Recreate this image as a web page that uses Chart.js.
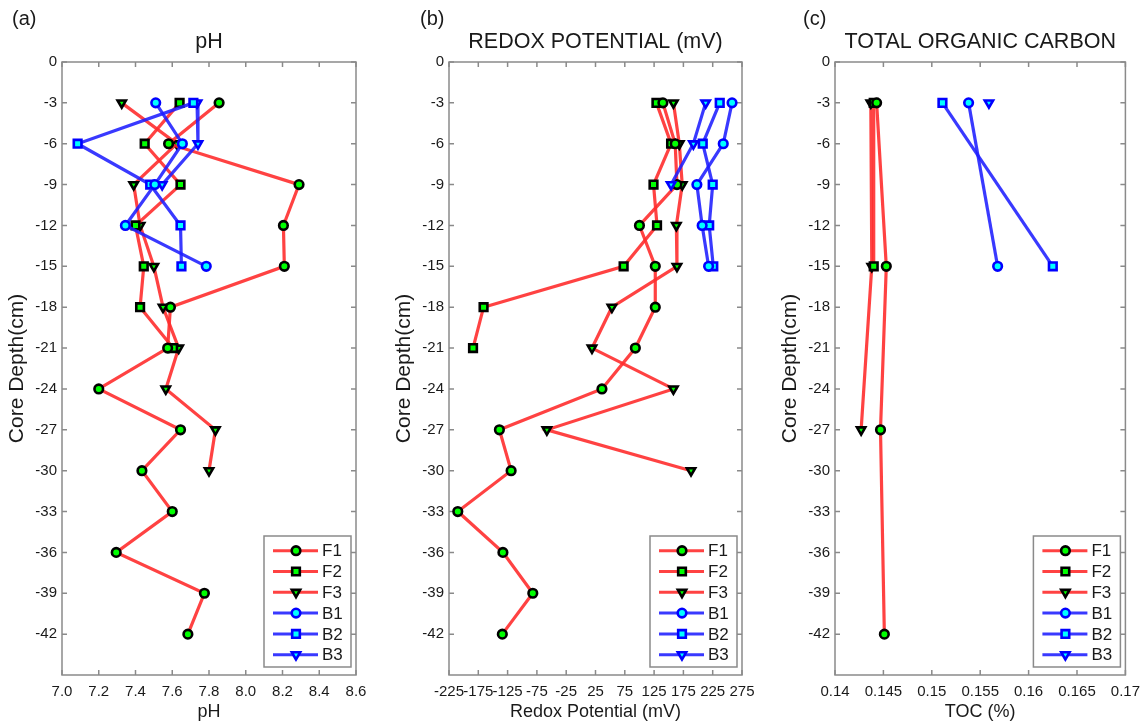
<!DOCTYPE html>
<html>
<head>
<meta charset="utf-8">
<title>Core depth profiles</title>
<script src="https://cdn.jsdelivr.net/npm/chart.js@4.4.1/dist/chart.umd.min.js"></script>
<style>
  body { margin: 0; background: #fff; }
  #page { position: relative; width: 1148px; height: 726px; overflow: hidden; background: #fff; }
  #page canvas { position: absolute; top: 0; }
</style>
</head>
<body>
<div id="page">
  <canvas id="chart-ph" width="387" height="726" style="left:0px"></canvas>
  <canvas id="chart-redox" width="386" height="726" style="left:387px"></canvas>
  <canvas id="chart-toc" width="375" height="726" style="left:773px"></canvas>
</div>
<script>
// axis ticks
const depthTicks = [0, -3, -6, -9, -12, -15, -18, -21, -24, -27, -30, -33, -36, -39, -42];
const phTicks = [7.0, 7.2, 7.4, 7.6, 7.8, 8.0, 8.2, 8.4, 8.6];
const redoxTicks = [-225, -175, -125, -75, -25, 25, 75, 125, 175, 225, 275];
const tocTicks = [0.14, 0.145, 0.15, 0.155, 0.16, 0.165, 0.17];

const seriesNames = ["F1", "F2", "F3", "B1", "B2", "B3"];

// sampling depths (cm) of each core
const depthF1 = [-3, -6, -9, -12, -15, -18, -21, -24, -27, -30, -33, -36, -39, -42];
const depthF2 = [-3, -6, -9, -12, -15, -18, -21];
const depthF3 = [-3, -6, -9, -12, -15, -18, -21, -24, -27, -30];
const depthB1 = [-3, -6, -9, -12, -15];
const depthB2 = [-3, -6, -9, -12, -15];
const depthB3 = [-3, -6, -9];

// TOC was only measured at a few depths
const tocDepthF1 = [-3, -15, -27, -42];
const tocDepthF2 = [-3, -15];
const tocDepthF3 = [-3, -15, -27];
const tocDepthB1 = [-3, -15];
const tocDepthB2 = [-3, -15];
const tocDepthB3 = [-3];

// pH
const phF1 = [7.855, 7.58, 8.29, 8.205, 8.21, 7.59, 7.575, 7.20, 7.645, 7.435, 7.60, 7.295, 7.775, 7.685];
const phF2 = [7.64, 7.45, 7.645, 7.40, 7.445, 7.425, 7.605];
const phF3 = [7.325, 7.625, 7.39, 7.425, 7.50, 7.55, 7.635, 7.565, 7.835, 7.80];
const phB1 = [7.51, 7.655, 7.505, 7.345, 7.785];
const phB2 = [7.715, 7.085, 7.48, 7.645, 7.65];
const phB3 = [7.735, 7.74, 7.545];

// redox potential (mV)
const redoxF1 = [140, 161, 164, 100, 127, 127, 93, 36, -139, -119, -210, -133, -82, -134];
const redoxF2 = [129, 154, 124, 130, 73, -166, -184];
const redoxF3 = [158, 168, 173, 163, 164, 53, 19, 158, -58, 188];
const redoxB1 = [258, 243, 198, 207, 218];
const redoxB2 = [237, 208, 225, 219, 226];
const redoxB3 = [213, 192, 154];

// total organic carbon (%)
const tocF1 = [0.1443, 0.1453, 0.1447, 0.1451];
const tocF2 = [0.1440, 0.1440];
const tocF3 = [0.1437, 0.1438, 0.1427];
const tocB1 = [0.1538, 0.1568];
const tocB2 = [0.1511, 0.1625];
const tocB3 = [0.1559];

const FONT = "'Liberation Sans', Arial, Helvetica, sans-serif";
const TEXT = "#1a1a1a";

const styles = {
  F1: { line: "rgba(255,45,45,0.9)", fill: "#00ff00", edge: "#000000", shape: "circle", rot: 0, r: 4.3 },
  F2: { line: "rgba(255,45,45,0.9)", fill: "#00ff00", edge: "#000000", shape: "rect", rot: 0, r: 5.4 },
  F3: { line: "rgba(255,45,45,0.9)", fill: "#00ff00", edge: "#000000", shape: "triangle", rot: 180, r: 4.8 },
  B1: { line: "rgba(30,30,255,0.88)", fill: "#00ffff", edge: "#0000ff", shape: "circle", rot: 0, r: 4.3 },
  B2: { line: "rgba(30,30,255,0.88)", fill: "#00ffff", edge: "#0000ff", shape: "rect", rot: 0, r: 5.4 },
  B3: { line: "rgba(30,30,255,0.88)", fill: "#00ffff", edge: "#0000ff", shape: "triangle", rot: 180, r: 4.8 }
};

function buildDatasets(values, depths) {
  return seriesNames.map((name, i) => {
    const s = styles[name];
    return {
      label: name,
      data: values[i].map((v, k) => ({ x: v, y: depths[i][k] })),
      borderColor: s.line,
      borderWidth: 3.2,
      tension: 0,
      fill: false,
      pointStyle: s.shape,
      pointRotation: s.rot,
      pointRadius: s.r,
      pointBorderWidth: 2.6,
      pointBackgroundColor: s.fill,
      pointBorderColor: s.edge,
      // blue cores sit on top of the red ones
      order: name[0] === "B" ? 0 : 1
    };
  });
}

// box around the plot with inward tick marks on all four sides
const framePlugin = {
  id: "frame",
  beforeDatasetsDraw(chart) {
    const { ctx, chartArea: a, scales } = chart;
    ctx.save();
    ctx.strokeStyle = "#8a8a8a";
    ctx.lineWidth = 1.5;
    ctx.strokeRect(a.left, a.top, a.right - a.left, a.bottom - a.top);
    ctx.beginPath();
    scales.x.ticks.forEach(t => {
      const px = scales.x.getPixelForValue(t.value);
      ctx.moveTo(px, a.bottom); ctx.lineTo(px, a.bottom - 5);
      ctx.moveTo(px, a.top); ctx.lineTo(px, a.top + 5);
    });
    scales.y.ticks.forEach(t => {
      const py = scales.y.getPixelForValue(t.value);
      ctx.moveTo(a.left, py); ctx.lineTo(a.left + 5, py);
      ctx.moveTo(a.right, py); ctx.lineTo(a.right - 5, py);
    });
    ctx.stroke();
    ctx.restore();
  }
};

// legend box in the lower right corner of the plot
const boxLegendPlugin = {
  id: "boxLegend",
  afterDraw(chart) {
    const { ctx, chartArea: a } = chart;
    const w = 87, h = 131;
    const left = a.right - 5 - w, top = a.bottom - 8 - h;
    ctx.save();
    ctx.fillStyle = "#fff";
    ctx.fillRect(left, top, w, h);
    ctx.strokeStyle = "#8a8a8a";
    ctx.lineWidth = 1.5;
    ctx.strokeRect(left, top, w, h);
    chart.data.datasets.forEach((ds, i) => {
      const y = top + 14.7 + i * 20.8;
      ctx.strokeStyle = ds.borderColor;
      ctx.lineWidth = 3;
      ctx.beginPath();
      ctx.moveTo(left + 9, y);
      ctx.lineTo(left + 54, y);
      ctx.stroke();
      ctx.fillStyle = ds.pointBackgroundColor;
      ctx.strokeStyle = ds.pointBorderColor;
      ctx.lineWidth = ds.pointBorderWidth;
      Chart.helpers.drawPoint(ctx, {
        pointStyle: ds.pointStyle,
        rotation: ds.pointRotation,
        radius: ds.pointRadius,
        borderWidth: ds.pointBorderWidth
      }, left + 32, y);
      ctx.fillStyle = TEXT;
      ctx.font = "17px " + FONT;
      ctx.textAlign = "left";
      ctx.textBaseline = "middle";
      ctx.fillText(ds.label, left + 58, y + 1);
    });
    ctx.restore();
  }
};

// panel letter and heading above the plot box
const headingPlugin = {
  id: "heading",
  afterDraw(chart, args, opts) {
    const { ctx, chartArea: a } = chart;
    ctx.save();
    ctx.fillStyle = TEXT;
    ctx.textBaseline = "middle";
    ctx.font = "20px " + FONT;
    ctx.textAlign = "left";
    ctx.fillText(opts.tag, opts.tagX, 19);
    ctx.font = "21.5px " + FONT;
    ctx.textAlign = "center";
    ctx.fillText(opts.title, (a.left + a.right) / 2, 42);
    ctx.restore();
  }
};

function makeChart(id, tag, tagX, title, xTitle, xMin, xMax, xTicks, xFormat, padRight, datasets) {
  return new Chart(document.getElementById(id), {
    type: "line",
    data: { datasets },
    options: {
      responsive: false,
      animation: false,
      layout: { padding: { left: 0, right: padRight, top: 62, bottom: 0 } },
      plugins: {
        legend: { display: false },
        tooltip: { enabled: false },
        title: { display: false },
        heading: { tag: tag, tagX: tagX, title: title }
      },
      scales: {
        x: {
          type: "linear",
          min: xMin,
          max: xMax,
          afterBuildTicks: s => { s.ticks = xTicks.map(v => ({ value: v })); },
          afterFit: s => { s.height = 51; },
          grid: { display: false, drawTicks: false },
          border: { display: false },
          ticks: {
            callback: xFormat,
            autoSkip: false,
            maxRotation: 0,
            minRotation: 0,
            padding: 8,
            color: TEXT,
            font: { family: FONT, size: 15 }
          },
          title: {
            display: true,
            text: xTitle,
            color: TEXT,
            font: { family: FONT, size: 18 },
            padding: { top: 0, bottom: 3 }
          }
        },
        y: {
          type: "linear",
          min: -45,
          max: 0,
          afterBuildTicks: s => { s.ticks = depthTicks.map(v => ({ value: v })); },
          afterFit: s => { s.width = 62; },
          grid: { display: false, drawTicks: false },
          border: { display: false },
          ticks: {
            autoSkip: false,
            padding: 5,
            color: TEXT,
            font: { family: FONT, size: 15 }
          },
          title: {
            display: true,
            text: "Core Depth(cm)",
            color: TEXT,
            font: { family: FONT, size: 21 },
            padding: { top: 5, bottom: 0 }
          }
        }
      }
    },
    plugins: [framePlugin, boxLegendPlugin, headingPlugin]
  });
}

makeChart("chart-ph", "(a)", 12, "pH", "pH", 7.0, 8.6, phTicks,
  v => v.toFixed(1), 31,
  buildDatasets([phF1, phF2, phF3, phB1, phB2, phB3],
                [depthF1, depthF2, depthF3, depthB1, depthB2, depthB3]));

makeChart("chart-redox", "(b)", 33, "REDOX POTENTIAL (mV)", "Redox Potential (mV)", -225, 275, redoxTicks,
  v => String(v), 31,
  buildDatasets([redoxF1, redoxF2, redoxF3, redoxB1, redoxB2, redoxB3],
                [depthF1, depthF2, depthF3, depthB1, depthB2, depthB3]));

makeChart("chart-toc", "(c)", 30, "TOTAL ORGANIC CARBON", "TOC (%)", 0.14, 0.17, tocTicks,
  v => String(parseFloat(v.toFixed(3))), 20,
  buildDatasets([tocF1, tocF2, tocF3, tocB1, tocB2, tocB3],
                [tocDepthF1, tocDepthF2, tocDepthF3, tocDepthB1, tocDepthB2, tocDepthB3]));
</script>
</body>
</html>
